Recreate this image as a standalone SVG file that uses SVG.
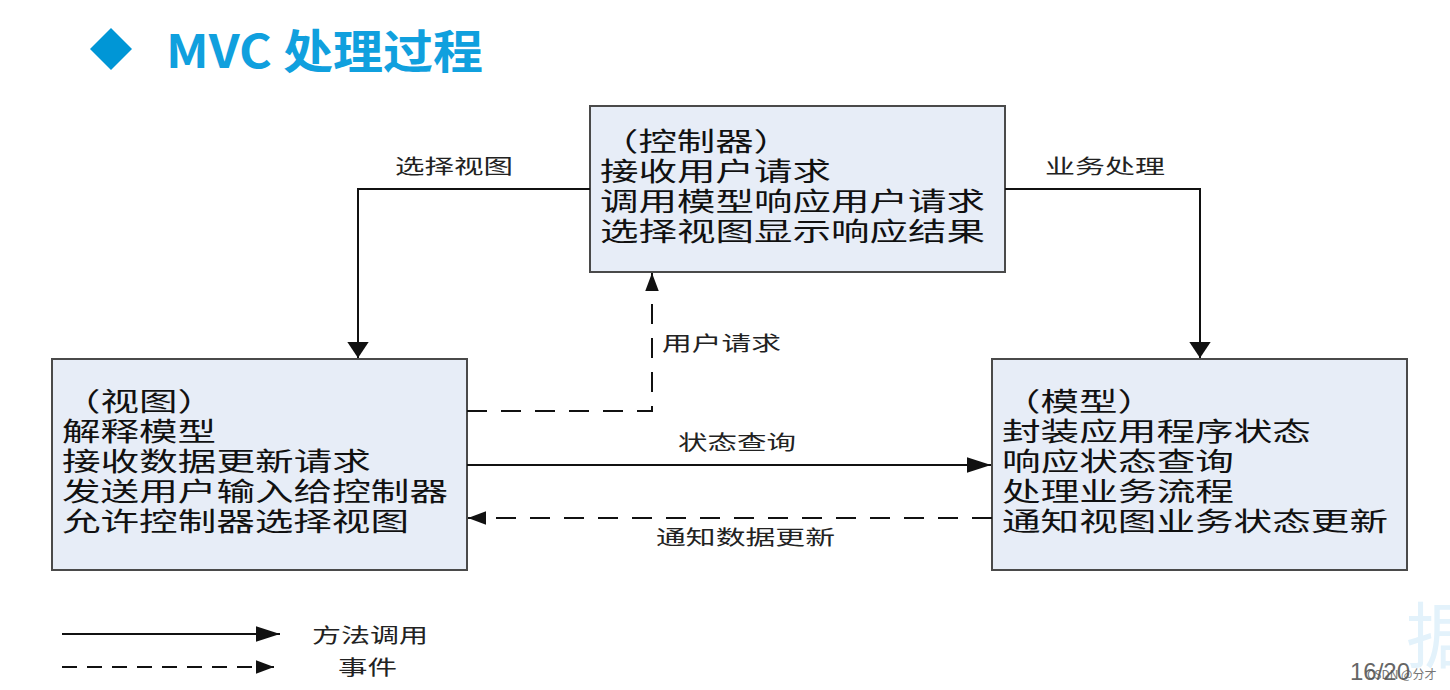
<svg xmlns="http://www.w3.org/2000/svg" width="1450" height="690" viewBox="0 0 1450 690">
<style>
  .box{fill:#E7EDF7;stroke:#4a4a4a;stroke-width:2}
  .bt{font-family:"Noto Sans CJK SC","Noto Sans",sans-serif;font-size:26px;fill:#111}
  .lb{font-family:"Noto Sans CJK SC","Noto Sans",sans-serif;font-size:20px;fill:#222}
  .ln{fill:none;stroke:#111;stroke-width:2}
  .dash{stroke-dasharray:20 14}
  .ldash{stroke-dasharray:15 10}
</style>
<defs>
  <marker id="aH" markerUnits="userSpaceOnUse" markerWidth="24" markerHeight="16" viewBox="0 0 22 14" refX="22" refY="7" orient="auto">
    <path d="M0,0 L22,7 L0,14 z" fill="#111"/>
  </marker>
  <marker id="aV" markerUnits="userSpaceOnUse" markerWidth="16" markerHeight="22" viewBox="0 0 15 20" refX="15" refY="10" orient="auto">
    <path d="M0,0 L15,10 L0,20 z" fill="#111"/>
  </marker>
  <marker id="aS" markerUnits="userSpaceOnUse" markerWidth="18" markerHeight="14" viewBox="0 0 16 12" refX="16" refY="6" orient="auto">
    <path d="M0,0 L16,6 L0,12 z" fill="#111"/>
  </marker>
</defs>
<rect width="1450" height="690" fill="#fff"/>

<g id="title">
  <path d="M111,28 L132,49 L111,70 L90,49 z" fill="#0096D6"/>
  <text x="166" y="68" font-family="'Noto Sans CJK SC','Noto Sans',sans-serif" font-size="46" font-weight="bold" fill="#10A0DE" textLength="317" lengthAdjust="spacingAndGlyphs">MVC 处理过程</text>
</g>

<g id="controller">
  <rect class="box" x="590" y="106" width="415" height="166"/>
  <text class="bt" x="600" y="151" textLength="192" lengthAdjust="spacingAndGlyphs">（控制器）</text>
  <text class="bt" x="600" y="181" textLength="231" lengthAdjust="spacingAndGlyphs">接收用户请求</text>
  <text class="bt" x="600" y="211" textLength="385" lengthAdjust="spacingAndGlyphs">调用模型响应用户请求</text>
  <text class="bt" x="600" y="241" textLength="385" lengthAdjust="spacingAndGlyphs">选择视图显示响应结果</text>
</g>

<g id="view">
  <rect class="box" x="52" y="359" width="415" height="211"/>
  <text class="bt" x="62" y="411" textLength="154" lengthAdjust="spacingAndGlyphs">（视图）</text>
  <text class="bt" x="62" y="441" textLength="154" lengthAdjust="spacingAndGlyphs">解释模型</text>
  <text class="bt" x="62" y="471" textLength="309" lengthAdjust="spacingAndGlyphs">接收数据更新请求</text>
  <text class="bt" x="62" y="501" textLength="386" lengthAdjust="spacingAndGlyphs">发送用户输入给控制器</text>
  <text class="bt" x="62" y="531" textLength="347" lengthAdjust="spacingAndGlyphs">允许控制器选择视图</text>
</g>

<g id="model">
  <rect class="box" x="992" y="359" width="415" height="211"/>
  <text class="bt" x="1002" y="411" textLength="154" lengthAdjust="spacingAndGlyphs">（模型）</text>
  <text class="bt" x="1002" y="441" textLength="309" lengthAdjust="spacingAndGlyphs">封装应用程序状态</text>
  <text class="bt" x="1002" y="471" textLength="232" lengthAdjust="spacingAndGlyphs">响应状态查询</text>
  <text class="bt" x="1002" y="501" textLength="232" lengthAdjust="spacingAndGlyphs">处理业务流程</text>
  <text class="bt" x="1002" y="531" textLength="386" lengthAdjust="spacingAndGlyphs">通知视图业务状态更新</text>
</g>

<g id="connectors">
  <path class="ln" d="M590,189 H358 V358" marker-end="url(#aV)"/>
  <text class="lb" x="395" y="174" textLength="118" lengthAdjust="spacingAndGlyphs">选择视图</text>
  <path class="ln" d="M1005,189 H1200 V358" marker-end="url(#aV)"/>
  <text class="lb" x="1045" y="174" textLength="120" lengthAdjust="spacingAndGlyphs">业务处理</text>
  <path class="ln dash" d="M467,411 H652 V273" marker-end="url(#aS)"/>
  <text class="lb" x="662" y="351" textLength="119" lengthAdjust="spacingAndGlyphs">用户请求</text>
  <path class="ln" d="M467,465 H991" marker-end="url(#aH)"/>
  <text class="lb" x="678" y="450" textLength="118" lengthAdjust="spacingAndGlyphs">状态查询</text>
  <path class="ln dash" d="M992,518 H468" marker-end="url(#aS)"/>
  <text class="lb" x="656" y="545" textLength="179" lengthAdjust="spacingAndGlyphs">通知数据更新</text>
</g>

<g id="legend">
  <path class="ln" d="M62,634 H280" marker-end="url(#aH)"/>
  <text class="lb" x="312" y="643" textLength="116" lengthAdjust="spacingAndGlyphs">方法调用</text>
  <path class="ln ldash" d="M62,667 H274" marker-end="url(#aS)"/>
  <text class="lb" x="338" y="675" textLength="59" lengthAdjust="spacingAndGlyphs">事件</text>
</g>

<g id="footer">
  <text x="1406" y="662" font-family="'Noto Sans CJK SC',sans-serif" font-size="72" fill="#E3F2FB">据</text>
  <text x="1350" y="680" font-family="'Liberation Sans',sans-serif" font-size="24" fill="#666" textLength="60" lengthAdjust="spacingAndGlyphs">16/20</text>
  <text x="1367" y="679" font-family="'Noto Sans CJK SC','Liberation Sans',sans-serif" font-size="12" fill="#555" opacity="0.8">CSDN @分才</text>
</g>
</svg>
